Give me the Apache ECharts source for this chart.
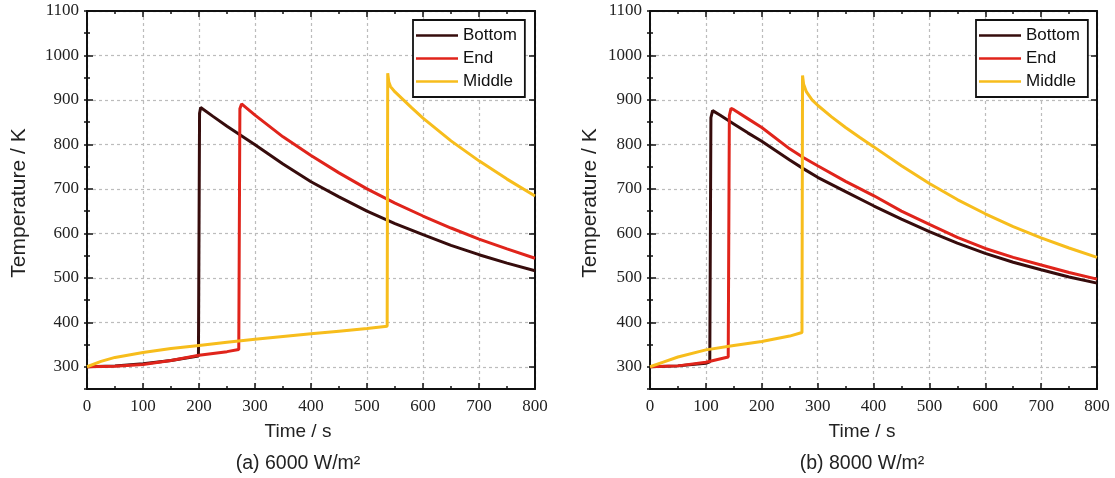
<!DOCTYPE html>
<html>
<head>
<meta charset="utf-8">
<title>Temperature / K vs Time / s</title>
<script src="https://cdn.jsdelivr.net/npm/echarts@6/dist/echarts.min.js"></script>
<style>
html, body { margin: 0; padding: 0; background: #fff; }
#main { width: 1115px; height: 478px; }
</style>
</head>
<body>
<div id="main"></div>
<script>
// (a) 6000 W/m2
var timeA_bottom = [0, 50, 100, 150, 199, 201, 203, 225, 250, 275, 300, 350, 400, 450, 500, 550, 600, 650, 700, 750, 800];
var tempA_bottom = [300, 302, 307, 314, 324, 870, 883, 863, 841, 820, 799, 756, 716, 682, 650, 622, 597, 573, 552, 533, 516];
var timeA_end = [0, 50, 100, 150, 200, 250, 271, 273, 276, 300, 350, 400, 450, 500, 550, 600, 650, 700, 750, 800];
var tempA_end = [300, 301, 305, 314, 326, 334, 339, 880, 891, 866, 817, 775, 736, 700, 668, 639, 612, 587, 565, 544];
var timeA_middle = [0, 25, 50, 100, 150, 200, 250, 300, 350, 400, 450, 500, 536, 537, 539, 542, 550, 565, 580, 600, 650, 700, 750, 800];
var tempA_middle = [300, 312, 321, 332, 341, 348, 355, 362, 368, 374, 380, 386, 391, 960, 940, 930, 918, 900, 882, 859, 808, 763, 722, 684];

// (b) 8000 W/m2
var timeB_bottom = [0, 50, 100, 107, 109, 112, 125, 150, 175, 200, 250, 275, 300, 350, 400, 450, 500, 550, 600, 650, 700, 750, 800];
var tempB_bottom = [300, 302, 308, 311, 860, 876, 866, 846, 826, 807, 765, 745, 726, 694, 662, 632, 604, 578, 555, 535, 518, 502, 488];
var timeB_end = [0, 50, 100, 140, 142, 145, 150, 175, 200, 250, 275, 300, 350, 400, 450, 500, 550, 600, 650, 700, 750, 800];
var tempB_end = [300, 302, 310, 322, 865, 881, 878, 858, 838, 790, 770, 752, 717, 685, 650, 620, 591, 566, 546, 529, 512, 497];
var timeB_middle = [0, 25, 50, 100, 150, 200, 250, 272, 273, 275, 280, 290, 300, 325, 350, 375, 400, 450, 500, 550, 600, 650, 700, 750, 800];
var tempB_middle = [300, 311, 322, 338, 348, 357, 369, 377, 955, 935, 918, 900, 888, 862, 838, 816, 795, 752, 712, 676, 644, 615, 590, 567, 546];

var seriesNames = ['Bottom', 'End', 'Middle'];
var seriesColors = ['#360c0c', '#e0241b', '#f7bd1c'];
var yTickValues = [300, 400, 500, 600, 700, 800, 900, 1000, 1100];
var captions = ['(a) 6000 W/m\u00b2', '(b) 8000 W/m\u00b2'];

function pairs(t, v) {
    var out = [];
    for (var i = 0; i < t.length; i++) { out.push([t[i], v[i]]); }
    return out;
}

var serif = 'Liberation Serif';
var sans = 'Liberation Sans';
var ink = '#111';
var gridLine = { show: true, lineStyle: { color: '#bcbcbc', type: [3, 3], width: 1.2 } };
var plain = function (v) { return String(v); };

var grids = [
    { left: 87, top: 11, width: 448, height: 378 },
    { left: 650, top: 11, width: 447, height: 378 }
];

var xAxes = [], yAxes = [];
function addAxes(g) {
    // bottom (labelled) and top (mirror) x axes
    ['bottom', 'top'].forEach(function (pos, k) {
        xAxes.push({
            type: 'value', gridIndex: g, position: pos, min: 0, max: 800, interval: 100,
            axisLine: { show: true, onZero: false, lineStyle: { color: ink, width: 2 } },
            axisTick: { show: true, inside: true, length: 6, lineStyle: { color: ink, width: 1.5 } },
            minorTick: { show: true, splitNumber: 2, length: 3, lineStyle: { color: ink, width: 1.5 } },
            axisLabel: { show: k === 0, formatter: plain, fontFamily: serif, fontSize: 17, color: '#222', margin: 9 },
            splitLine: k === 0 ? gridLine : { show: false }
        });
    });
    // left (labelled) and right (mirror) y axes, each with a short-tick overlay every 50
    ['left', 'right'].forEach(function (pos, k) {
        yAxes.push({
            type: 'value', gridIndex: g, position: pos, min: 250, max: 1100, interval: 50,
            axisLine: { show: true, onZero: false, lineStyle: { color: ink, width: 2 } },
            axisTick: { show: true, inside: true, length: 6, customValues: yTickValues, lineStyle: { color: ink, width: 1.5 } },
            axisLabel: { show: k === 0, customValues: yTickValues, formatter: plain, fontFamily: serif, fontSize: 17, color: '#222', margin: 8 },
            splitLine: k === 0 ? gridLine : { show: false }
        });
        yAxes.push({
            type: 'value', gridIndex: g, position: pos, min: 250, max: 1100, interval: 50,
            axisLine: { show: false },
            axisTick: { show: true, inside: true, length: 3, lineStyle: { color: ink, width: 1.5 } },
            axisLabel: { show: false },
            splitLine: { show: false }
        });
    });
}
addAxes(0);
addAxes(1);

var panelData = [
    [pairs(timeA_bottom, tempA_bottom), pairs(timeA_end, tempA_end), pairs(timeA_middle, tempA_middle)],
    [pairs(timeB_bottom, tempB_bottom), pairs(timeB_end, tempB_end), pairs(timeB_middle, tempB_middle)]
];

var series = [];
panelData.forEach(function (set, g) {
    set.forEach(function (d, i) {
        series.push({
            type: 'line', name: seriesNames[i], data: d,
            xAxisIndex: g * 2, yAxisIndex: g * 4,
            symbol: 'none', showSymbol: false, clip: true,
            lineStyle: { color: seriesColors[i], width: 3 },
            itemStyle: { color: seriesColors[i] },
            z: 3 + i
        });
    });
});

var legendBase = {
    data: seriesNames, orient: 'vertical', top: 20,
    icon: 'rect', itemWidth: 42, itemHeight: 2.5, itemGap: 6,
    padding: [7, 8, 7, 3],
    borderColor: ink, borderWidth: 1.8, backgroundColor: '#fff',
    textStyle: { fontFamily: sans, fontSize: 17, color: ink, lineHeight: 17 }
};
var legends = [
    Object.assign({ left: 413 }, legendBase),
    Object.assign({ left: 976 }, legendBase)
];

var titleFont = { fontFamily: sans, fontSize: 19, fill: '#222', align: 'center', verticalAlign: 'middle' };
function txt(x, y, text, rot, size) {
    var st = Object.assign({}, titleFont, { text: text });
    if (size) { st.fontSize = size; }
    return { type: 'text', x: x, y: y, rotation: rot || 0, style: st, z: 10 };
}
var graphics = [
    txt(19, 203, 'Temperature / K', Math.PI / 2, 21),
    txt(590, 203, 'Temperature / K', Math.PI / 2, 21),
    txt(298, 432, 'Time / s'),
    txt(862, 432, 'Time / s'),
    txt(298, 464, captions[0], 0, 19.5),
    txt(862, 464, captions[1], 0, 19.5)
];

var chart = echarts.init(document.getElementById('main'), null, { renderer: 'canvas' });
chart.setOption({
    animation: false,
    backgroundColor: '#fff',
    grid: grids,
    xAxis: xAxes,
    yAxis: yAxes,
    legend: legends,
    graphic: graphics,
    series: series
});
</script>
</body>
</html>
